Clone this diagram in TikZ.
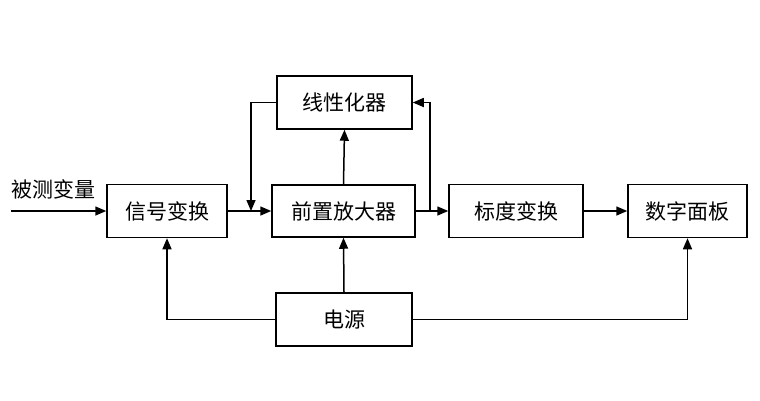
\documentclass[tikz,border=0pt]{standalone}
\usepackage{fontspec}
\newfontfamily\cjk{Noto Sans CJK SC}
\usetikzlibrary{arrows.meta,calc}
\tikzset{
  blk/.style={draw, line width=1.5pt, rectangle, inner sep=0pt, font=\cjk\fontsize{21}{21}\selectfont},
  arr/.style={line width=1.5pt, -{Triangle[length=11pt,width=9pt]}},
  ln/.style={line width=1.5pt}
}
\begin{document}
\begin{tikzpicture}[x=1pt,y=-1pt]
\useasboundingbox (0,0) rectangle (760,400);
\node[blk, minimum width=120pt, minimum height=53pt] (sig) at (167,211) {信号变换};
\node[blk, minimum width=143pt, minimum height=52pt] (pre) at (343.5,211) {前置放大器};
\node[blk, minimum width=135pt, minimum height=53pt] (lin) at (344.5,102.5) {线性化器};
\node[blk, minimum width=134pt, minimum height=53pt] (sca) at (516,211) {标度变换};
\node[blk, minimum width=119pt, minimum height=53pt] (dig) at (687.5,211) {数字面板};
\node[blk, minimum width=136pt, minimum height=53pt] (pwr) at (344,319.5) {电源};
\node[font=\cjk\fontsize{21}{21}\selectfont, inner sep=0pt] (lbl) at (53,189) {被测变量};
\coordinate (in) at (11,211);
\coordinate (fb) at (251,211);
\coordinate (br) at (430,211);
\draw[arr] (in) -- (sig.west);
\draw[arr] (sig.east) -- (pre.west);
\draw[arr] (lin.west) -| (fb);
\draw[arr] (pre.east) -- (sca.west);
\draw[arr] (br) |- (lin.east);
\draw[arr] (pre.north) -- (lin.south);
\draw[arr] (sca.east) -- (dig.west);
\draw[arr] (pwr.north) -- (pre.south);
\draw[arr] (pwr.west) -| (sig.south);
\draw[arr] (pwr.east) -| (dig.south);
\end{tikzpicture}
\end{document}
